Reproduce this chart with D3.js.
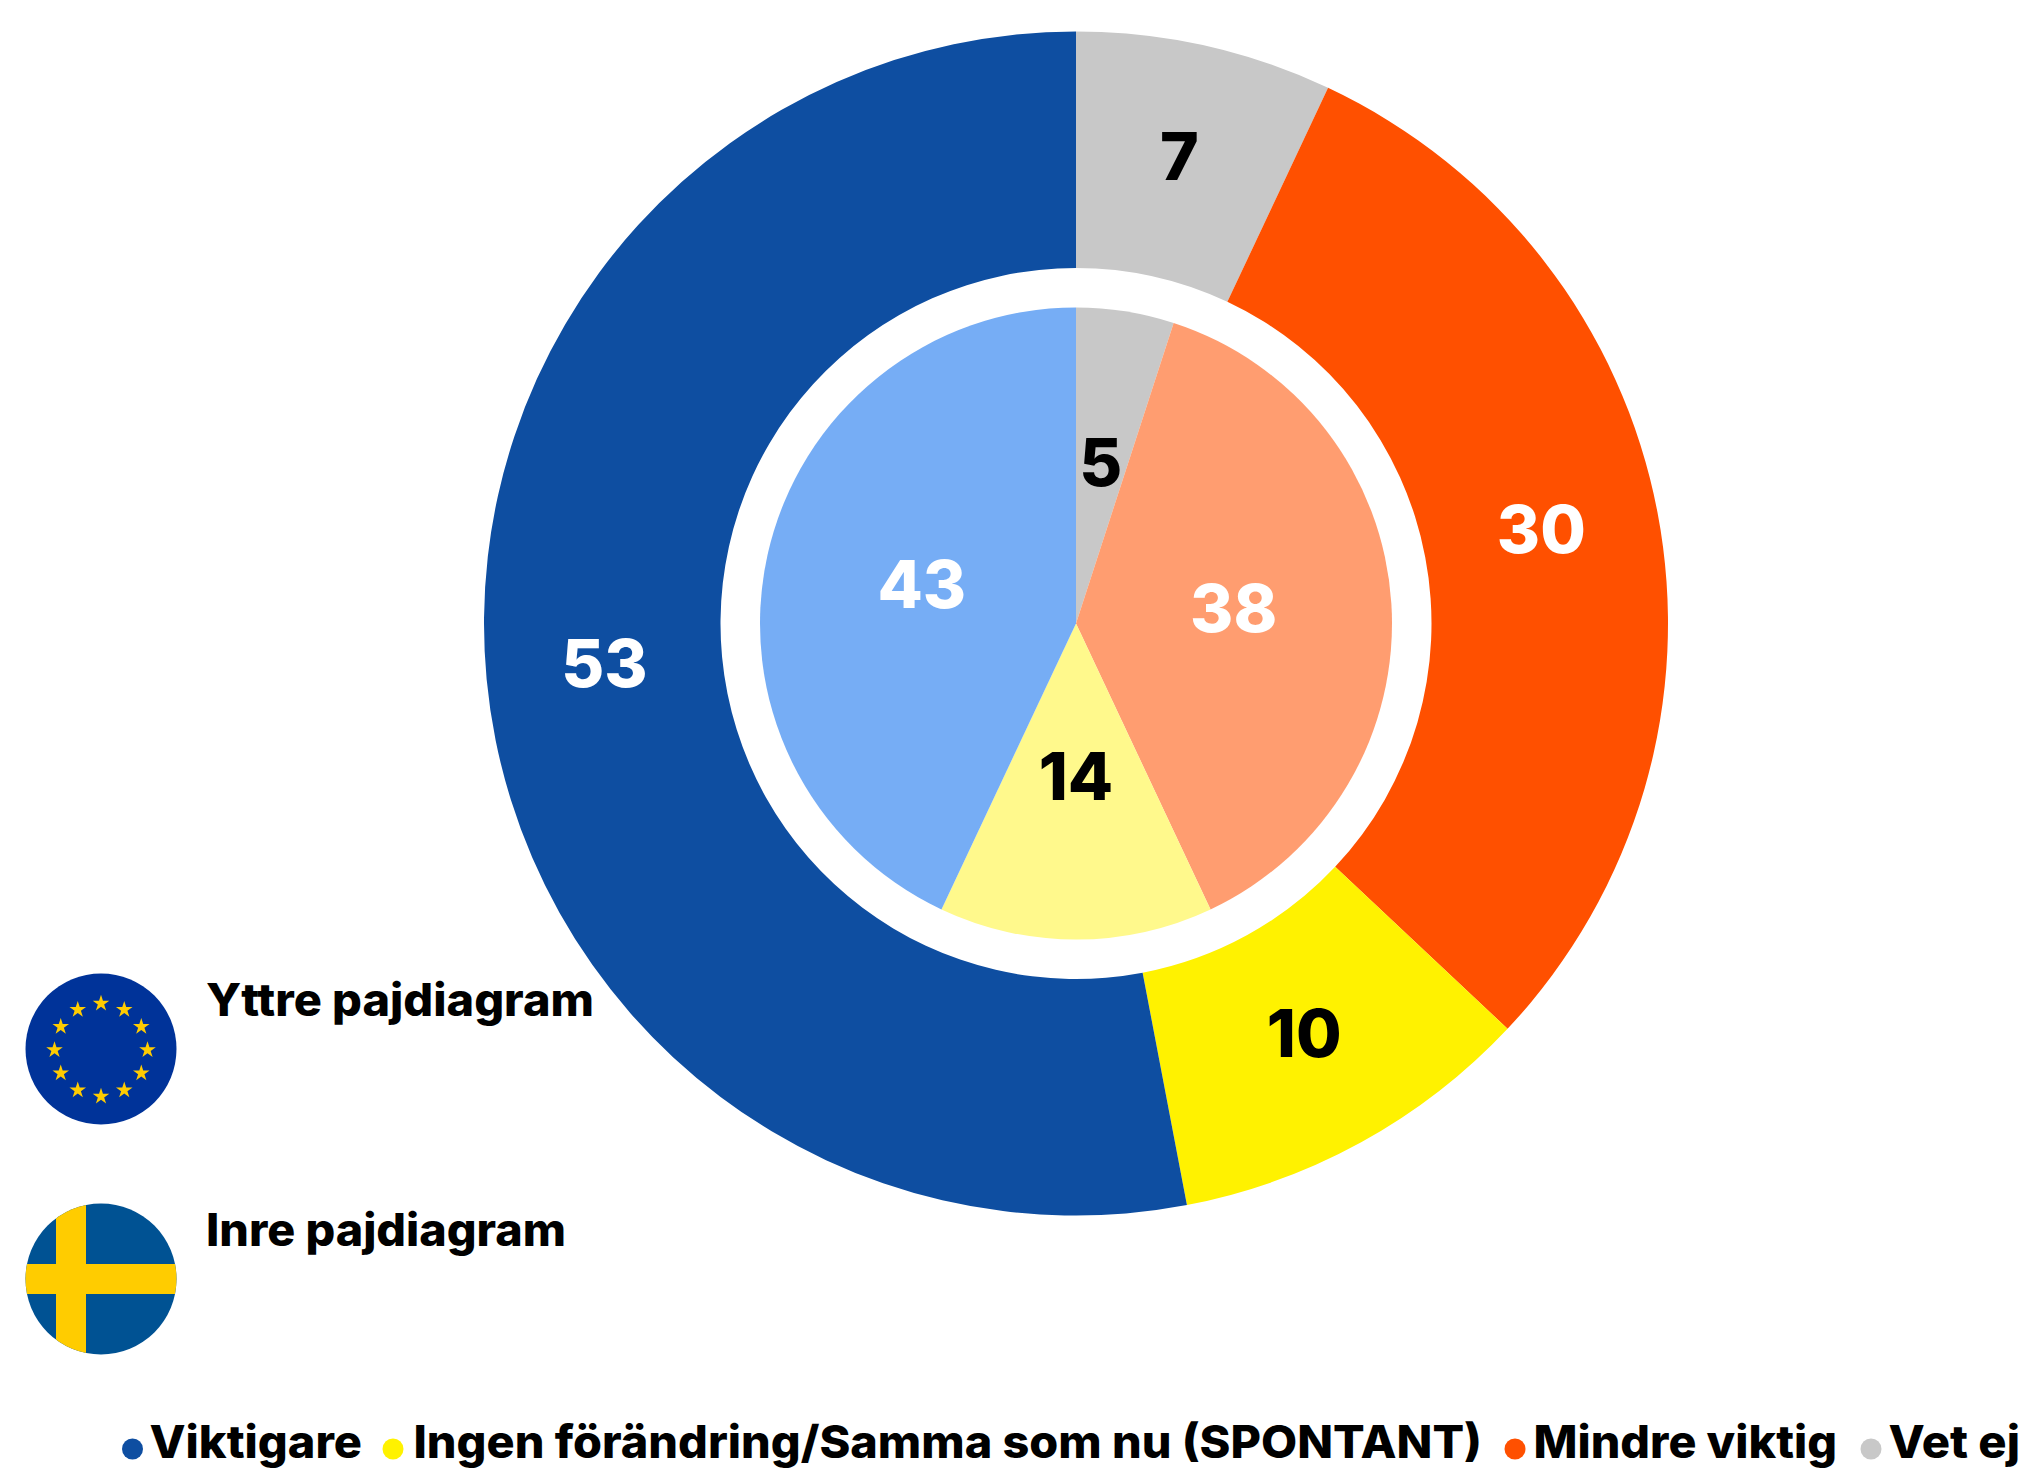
<!DOCTYPE html>
<html lang="sv"><head><meta charset="utf-8">
<script src="https://cdn.jsdelivr.net/npm/d3@7/dist/d3.min.js"></script>
<style>html,body{margin:0;background:#fff}svg{display:block}text{font-family:Inter,"Noto Sans",sans-serif;font-weight:800}</style>
</head><body><svg id="c" width="2028" height="1473"></svg>
<script>
const categories = ["Vet ej","Mindre viktig","Ingen förändring/Samma som nu (SPONTANT)","Viktigare"];
const outerValues = [7,30,10,53];
const innerValues = [5,38,14,43];
const outerColors = ["#c8c8c8","#ff5000","#fff200","#0e4ea1"];
const innerColors = ["#c8c8c8","#ff9d70","#fff98c","#76adf5"];
const labelColors = ["#000","#fff","#000","#fff"];
const legendOrder = ["Viktigare","Ingen förändring/Samma som nu (SPONTANT)","Mindre viktig","Vet ej"];
const legendDotX = [132.5,393,1515,1871];
const legendTextX = [149.5,413.5,1533.5,1888.5];
const legendTextW = [212.5,1068.5,303.5,131.5];
const ringNames = ["Yttre pajdiagram","Inre pajdiagram"];
const ringNameW = [388,360];

const svg = d3.select("#c");
const color = d3.scaleOrdinal(categories, outerColors);
const cx=1076, cy=623.5, R=592, r0=355.5, Ri=316;
const pie = d3.pie().sort(null).value(d=>d);
const g = svg.append("g").attr("transform",`translate(${cx},${cy})`);

function ring(vals, colors, inner, outer, labelArc){
  const arc = d3.arc().innerRadius(inner).outerRadius(outer);
  const arcs = pie(vals);
  g.append("g").selectAll("path").data(arcs).join("path").attr("d",arc).attr("fill",(d,i)=>colors[i]);
  g.append("g").selectAll("text").data(arcs).join("text")
    .attr("transform",d=>`translate(${labelArc.centroid(d)})`)
    .attr("text-anchor","middle").attr("dy","0.28em")
    .attr("font-size",66).attr("fill",(d,i)=>labelColors[i]).text(d=>d.value);
}
ring(outerValues, outerColors, r0, R, d3.arc().innerRadius(r0).outerRadius(R));
ring(innerValues, innerColors, 0, Ri, d3.arc().innerRadius(0).outerRadius(Ri));

// EU badge
const eu = svg.append("g").attr("transform","translate(101,1049)");
eu.append("circle").attr("r",75.5).attr("fill","#003399");
const star = d3.symbol().type(d3.symbolStar).size(85);
eu.selectAll("path").data(d3.range(12)).join("path").attr("d",star)
  .attr("fill","#ffcc00")
  .attr("transform",d=>`translate(${46.5*Math.sin(d*Math.PI/6)},${1-46.5*Math.cos(d*Math.PI/6)})`);

// Swedish badge
const defs = svg.append("defs");
defs.append("clipPath").attr("id","se").append("circle").attr("r",75.5);
const se = svg.append("g").attr("transform","translate(101,1279)").attr("clip-path","url(#se)");
se.append("rect").attr("x",-76).attr("y",-76).attr("width",152).attr("height",152).attr("fill","#005293");
se.append("rect").attr("x",-45).attr("y",-76).attr("width",30).attr("height",152).attr("fill","#ffcc00");
se.append("rect").attr("x",-76).attr("y",-15).attr("width",152).attr("height",30).attr("fill","#ffcc00");

svg.selectAll("text.ring").data(ringNames).join("text").attr("class","ring")
  .attr("x",206).attr("y",(d,i)=>[1016,1246][i]).attr("font-size",45).attr("fill","#000")
  .attr("textLength",(d,i)=>ringNameW[i]).attr("lengthAdjust","spacingAndGlyphs").text(d=>d);

// legend
const lg = svg.append("g");
lg.selectAll("circle").data(legendOrder).join("circle")
  .attr("cx",(d,i)=>legendDotX[i]).attr("cy",1449).attr("r",10.5).attr("fill",d=>color(d));
lg.selectAll("text").data(legendOrder).join("text")
  .attr("x",(d,i)=>legendTextX[i]).attr("y",1458).attr("font-size",45).attr("fill","#000")
  .attr("textLength",(d,i)=>legendTextW[i]).attr("lengthAdjust","spacingAndGlyphs").text(d=>d);
</script></body></html>
